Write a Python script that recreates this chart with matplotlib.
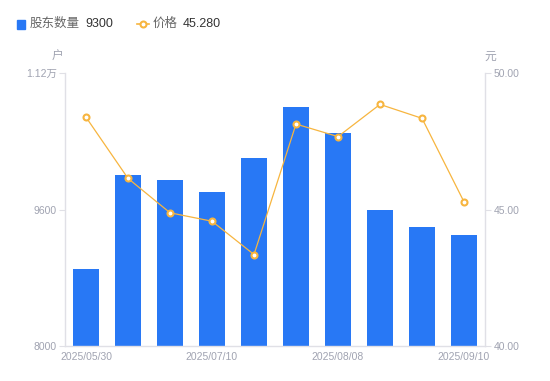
import matplotlib
matplotlib.use("Agg")
import matplotlib.pyplot as plt
from matplotlib.ticker import FixedLocator
from matplotlib.lines import Line2D
from matplotlib.patches import Rectangle

plt.rcParams['font.family'] = ['Liberation Sans', 'Noto Sans CJK SC', 'DejaVu Sans']

dates = ["2025/05/30", "2025/06/10", "2025/06/20", "2025/07/10", "2025/07/18",
         "2025/07/31", "2025/08/08", "2025/08/20", "2025/08/29", "2025/09/10"]
holders = [8900, 10000, 9950, 9800, 10200, 10800, 10500, 9600, 9400, 9300]
price = [48.38, 46.14, 44.88, 44.57, 43.35, 48.13, 47.67, 48.85, 48.34, 45.28]
left_ticks = [8000, 9600, 11200]
left_labels = ["8000", "9600", "1.12万"]
right_ticks = [40.0, 45.0, 50.0]
right_labels = ["40.00", "45.00", "50.00"]
shown_dates = [0, 3, 6, 9]

BLUE = "#2878F5"
ORANGE = "#F7B53F"
AXIS = "#E0E0E6"
TICKC = "#A0A3B1"

fig = plt.figure(figsize=(5.5, 3.81), dpi=100)
ax = fig.add_axes([65/550, 1-346/381, 420/550, 273/381])
x = list(range(len(dates)))
ax.bar(x, holders, width=0.6, color=BLUE, zorder=2)
ax.set_xlim(-0.5, len(dates)-0.5)
ax.set_ylim(left_ticks[0], left_ticks[-1])
ax.yaxis.set_major_locator(FixedLocator(left_ticks))
ax.set_yticklabels(left_labels)
ax.set_xticks([x[i] for i in shown_dates])
ax.set_xticklabels([dates[i] for i in shown_dates])

ax2 = ax.twinx()
ax2.plot(x, price, color=ORANGE, lw=0.9, marker='o', markersize=4.3,
         markerfacecolor='white', markeredgecolor=ORANGE, markeredgewidth=1.5, zorder=3)
ax2.set_ylim(right_ticks[0], right_ticks[-1])
ax2.yaxis.set_major_locator(FixedLocator(right_ticks))
ax2.set_yticklabels(right_labels)

for a in (ax, ax2):
    for s in a.spines.values():
        s.set_visible(False)
ax.spines['left'].set_visible(True)
ax.spines['bottom'].set_visible(True)
ax2.spines['right'].set_visible(True)
for s in (ax.spines['left'], ax.spines['bottom'], ax2.spines['right']):
    s.set_color(AXIS)
    s.set_linewidth(1)

ax.tick_params(axis='y', colors=AXIS, labelcolor=TICKC, labelsize=7.5, length=4, width=0.8, pad=2)
ax.tick_params(axis='x', length=0, labelcolor=TICKC, labelsize=7.5, pad=4)
ax2.tick_params(axis='y', colors=AXIS, labelcolor=TICKC, labelsize=7.5, length=4, width=0.8, pad=2)

fig.text(58/550, 1-57/381, "户", color=TICKC, fontsize=8.5, ha='center', va='center')
fig.text(490/550, 1-57/381, "元", color=TICKC, fontsize=8.5, ha='center', va='center')

# legend
fig.patches.append(Rectangle((17/550, 1-29/381), 8/550, 9/381, transform=fig.transFigure,
                             color=BLUE, figure=fig))
fig.text(30/550, 1-24/381, "股东数量", color="#666666", fontsize=9, va='center')
fig.text(85/550, 1-24/381, "9300", color="#333333", fontsize=9, va='center')
fig.lines.append(Line2D([137/550, 149/550], [1-24/381, 1-24/381], transform=fig.transFigure,
                        color=ORANGE, lw=1.2))
fig.lines.append(Line2D([143/550], [1-24/381], transform=fig.transFigure, color=ORANGE,
                        marker='o', markersize=4.3, markerfacecolor='white',
                        markeredgewidth=1.5, lw=0))
fig.text(153/550, 1-24/381, "价格", color="#666666", fontsize=9, va='center')
fig.text(183/550, 1-24/381, "45.280", color="#333333", fontsize=9, va='center')

fig.savefig("out.png", dpi=100)
